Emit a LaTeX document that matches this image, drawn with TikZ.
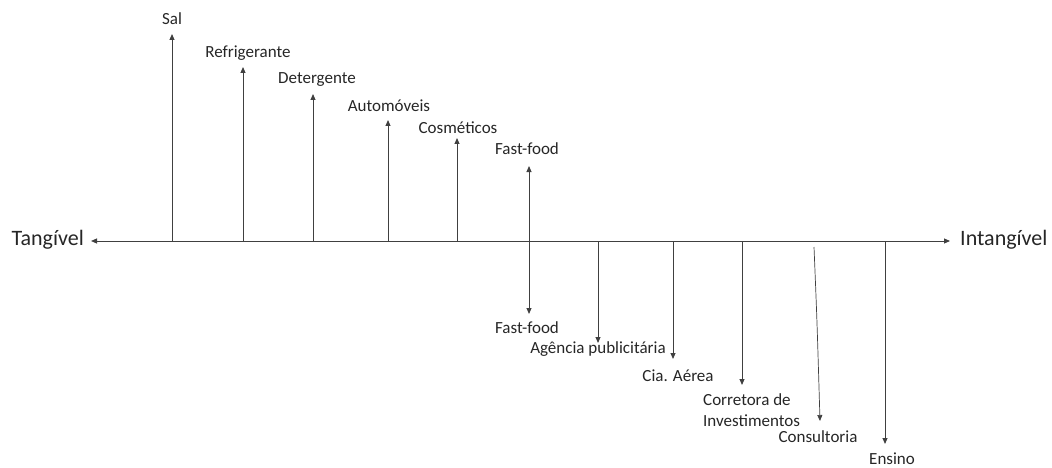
\documentclass[tikz,border=0pt]{standalone}
\usepackage{fontspec}
\setmainfont{Carlito}
\usetikzlibrary{arrows.meta}
\begin{document}
\begin{tikzpicture}[x=1pt,y=-1pt,
  ln/.style={draw=black!75, line width=1pt},
  arr/.style={ln, -{Triangle[length=6pt,width=5pt]}},
  darr/.style={ln, {Triangle[length=6pt,width=5pt]}-{Triangle[length=6pt,width=5pt]}},
  lbl/.style={inner sep=0pt, text=black!85, font=\fontsize{17}{21}\selectfont},
  big/.style={inner sep=0pt, text=black!85, font=\fontsize{22}{24}\selectfont}]
\useasboundingbox (0,0) rectangle (1052,468);
% axis
\coordinate (axL) at (91,241);
\coordinate (axR) at (950,241);
\draw[darr] (axL) -- (axR);
\node[big, anchor=east] (tang) at (84,240) {Tangível};
\node[big, anchor=west] (intang) at (960,240) {Intangível};
% upward arrows
\coordinate (b1) at (172,241); \coordinate (t1) at (172,34);
\coordinate (b2) at (243,241); \coordinate (t2) at (243,67);
\coordinate (b3) at (313,241); \coordinate (t3) at (313,94);
\coordinate (b4) at (388,241); \coordinate (t4) at (388,120);
\coordinate (b5) at (457,241); \coordinate (t5) at (457,138);
\draw[arr] (b1) -- (t1);
\draw[arr] (b2) -- (t2);
\draw[arr] (b3) -- (t3);
\draw[arr] (b4) -- (t4);
\draw[arr] (b5) -- (t5);
\node[lbl] (sal) at (172,19) {Sal};
\node[lbl] (refri) at (248,53) {Refrigerante};
\node[lbl, anchor=west] (deter) at (278,80) {Detergente};
\node[lbl] (auto) at (389,106) {Automóveis};
\node[lbl] (cosm) at (458,128) {Cosméticos};
\node[lbl] (ff1) at (527,149) {Fast-food};
% fast-food double arrow
\coordinate (f1) at (529,166); \coordinate (f2) at (529,314);
\draw[darr] (f1) -- (f2);
\node[lbl] (ff2) at (527,328) {Fast-food};
% downward arrows
\coordinate (d1) at (598,241); \coordinate (e1) at (598,343);
\coordinate (d2) at (673,241); \coordinate (e2) at (673,359);
\coordinate (d3) at (742,241); \coordinate (e3) at (742,385);
\coordinate (d4) at (814,247); \coordinate (e4) at (820,421);
\coordinate (d5) at (885,241); \coordinate (e5) at (885,444);
\draw[arr] (d1) -- (e1);
\draw[arr] (d2) -- (e2);
\draw[arr] (d3) -- (e3);
\draw[arr, line width=0.7pt] (d4) .. controls (817,320) .. (e4);
\draw[arr] (d5) -- (e5);
\node[lbl] (agen) at (598,349) {Agência publicitária};
\node[lbl] (cia) at (678,376) {Cia. Aérea};
\node[lbl, align=left, anchor=north west] (corr) at (703,393) {Corretora de\\Investimentos};
\node[lbl] (cons) at (818,437) {Consultoria};
\node[lbl, anchor=west] (ens) at (869,459) {Ensino};
\end{tikzpicture}
\end{document}
